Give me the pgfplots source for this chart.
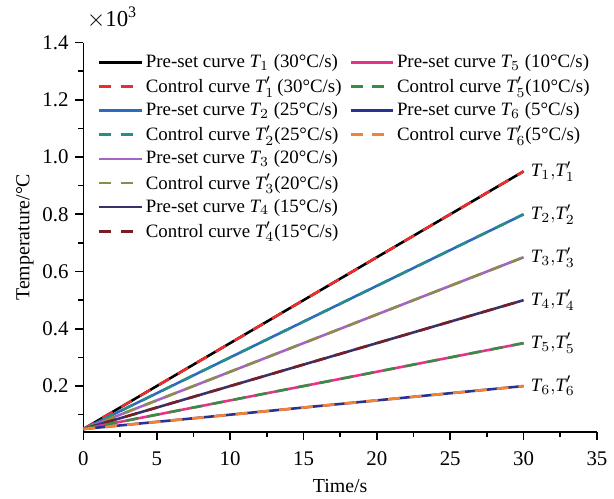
\documentclass[border=0pt]{standalone}
\usepackage{fontspec}
\setmainfont{Liberation Serif}
\usepackage{pgfplots}
\pgfplotsset{compat=1.18}
\definecolor{cA}{RGB}{0,0,0}
\definecolor{cAp}{RGB}{235,45,45}
\definecolor{cB}{RGB}{45,105,190}
\definecolor{cBp}{RGB}{40,140,140}
\definecolor{cC}{RGB}{165,100,195}
\definecolor{cCp}{RGB}{140,140,75}
\definecolor{cD}{RGB}{55,50,105}
\definecolor{cDp}{RGB}{120,30,40}
\definecolor{cE}{RGB}{230,50,135}
\definecolor{cEp}{RGB}{55,140,70}
\definecolor{cF}{RGB}{40,50,145}
\definecolor{cFp}{RGB}{245,130,50}

\pgfplotsset{
  common/.style={
    scale only axis, width=258.5pt, height=196pt,
    xmin=0, xmax=35, ymin=0.04, ymax=1.4,
  },
  pre/.style={line width=1.3pt, solid},
  ctl/.style={line width=1.3pt, dash pattern=on 6pt off 5pt},
  legstyle/.style={
    draw=none, fill=none, inner sep=0pt, anchor=north west,
    font=\fontsize{9.5}{11}\selectfont, cells={anchor=west},
    row sep=1.1pt, nodes={inner sep=1.2pt},
  },
  legend image code/.code={\draw[#1] (0cm,0cm) -- (21.5pt,0cm);},
}
\newcommand{\rlab}[2]{\node[anchor=west, inner sep=3.5pt, font=\fontsize{9.5}{11}\selectfont]
    at (axis cs:30,#1) {$\mathit{T}_{#2}{,}\mathit{T}_{#2}'$};}

\begin{document}
\begin{tikzpicture}
\begin{axis}[
  common,
  axis lines=left,
  axis line style={-, line width=0.8pt},
  tick style={line width=0.8pt, black},
  tick align=outside,
  major tick length=4pt, minor tick length=2.5pt,
  xtick={0,5,...,35},
  minor xtick={2.5,7.5,...,32.5},
  ytick={0.2,0.4,...,1.4},
  minor ytick={0.1,0.3,...,1.3},
  yticklabel style={/pgf/number format/.cd, fixed, fixed zerofill, precision=1},
  /pgf/number format/assume math mode=true,
  ticklabel style={font=\fontsize{10.5}{12}\selectfont},
  xticklabel style={yshift=-2.5pt},
  xlabel={Time/s},
  ylabel={Temperature/°C},
  label style={font=\fontsize{10}{12}\selectfont},
  xlabel style={yshift=0.3pt},
  ylabel style={yshift=-2.5pt},
  legend style={legstyle, at={(0.028,0.977)}},
  clip=false,
]
\addplot[pre, color=cA] coordinates {(0,0.05) (30,0.95)};
\addplot[ctl, color=cAp] coordinates {(0,0.05) (30,0.95)};
\addplot[pre, color=cB] coordinates {(0,0.05) (30,0.80)};
\addplot[ctl, color=cBp] coordinates {(0,0.05) (30,0.80)};
\addplot[pre, color=cC] coordinates {(0,0.05) (30,0.65)};
\addplot[ctl, color=cCp] coordinates {(0,0.05) (30,0.65)};
\addplot[pre, color=cD] coordinates {(0,0.05) (30,0.50)};
\addplot[ctl, color=cDp] coordinates {(0,0.05) (30,0.50)};
\addplot[pre, color=cE, forget plot] coordinates {(0,0.05) (30,0.35)};
\addplot[ctl, color=cEp, forget plot] coordinates {(0,0.05) (30,0.35)};
\addplot[pre, color=cF, forget plot] coordinates {(0,0.05) (30,0.20)};
\addplot[ctl, color=cFp, forget plot] coordinates {(0,0.05) (30,0.20)};
\legend{
  Pre-set curve $\mathit{T}_1$ (30°C/s),
  Control curve $\mathit{T}_1'$\,(30°C/s),
  Pre-set curve $\mathit{T}_2$ (25°C/s),
  Control curve $\mathit{T}_2'$(25°C/s),
  Pre-set curve $\mathit{T}_3$ (20°C/s),
  Control curve $\mathit{T}_3'$(20°C/s),
  Pre-set curve $\mathit{T}_4$ (15°C/s),
  Control curve $\mathit{T}_4'$(15°C/s)
}
\rlab{0.95}{1}
\rlab{0.80}{2}
\rlab{0.65}{3}
\rlab{0.50}{4}
\rlab{0.35}{5}
\rlab{0.20}{6}
\node[anchor=base west, inner sep=0pt, xshift=1.5pt, yshift=8pt, font=\fontsize{11.5}{13}\selectfont]
  at (rel axis cs:0,1) {$\times$10\textsuperscript{3}};
% fixes the frame round the axis
\path (rel axis cs:0,0) ++(-42pt,-33pt);
\path (rel axis cs:1,1) ++(6.5pt,21.4pt);
\end{axis}
\begin{axis}[
  common, hide axis,
  legend style={legstyle, at={(0.517,0.977)}},
]
\addlegendimage{pre, color=cE}
\addlegendimage{ctl, color=cEp}
\addlegendimage{pre, color=cF}
\addlegendimage{ctl, color=cFp}
\legend{
  Pre-set curve $\mathit{T}_5$ (10°C/s),
  Control curve $\mathit{T}_5'$(10°C/s),
  Pre-set curve $\mathit{T}_6$ (5°C/s),
  Control curve $\mathit{T}_6'$(5°C/s)
}
\end{axis}
\end{tikzpicture}
\end{document}
